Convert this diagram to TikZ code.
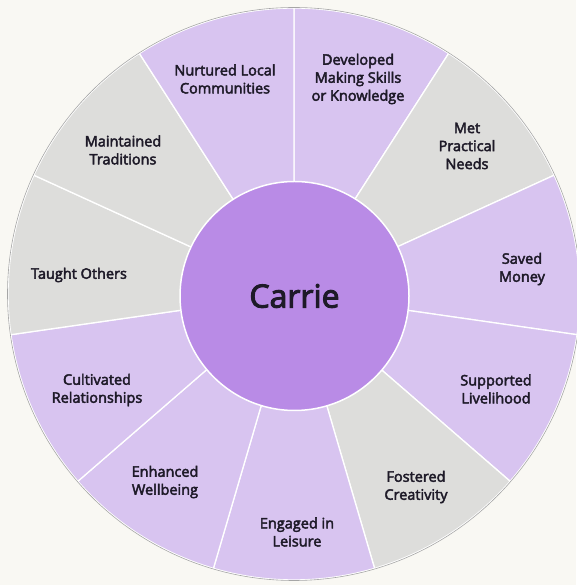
\documentclass[tikz,border=0pt]{standalone}
\usepackage{fontspec}
\setmainfont{Open Sans}[UprightFeatures={FakeBold=3}]
\definecolor{paper}{HTML}{F9F8F3}
\definecolor{lav}{HTML}{D8C4F0}
\definecolor{ash}{HTML}{DDDDDB}
\definecolor{hub}{HTML}{B98BE6}
\definecolor{ink}{HTML}{1E1A28}

\begin{document}
\begin{tikzpicture}[x=1pt, y=1pt,
        lbl/.style = {align=center, text=ink, font=\fontsize{14.5}{18}\selectfont}]
    \useasboundingbox[fill=paper] (0,0) rectangle (576,585);

    % wedges, clockwise from the top
    \begin{scope}[shift={(294,291)}]
        \foreach \k/\col in {0/lav, 1/ash, 2/lav, 3/lav, 4/ash, 5/lav,
                6/lav, 7/lav, 8/ash, 9/ash, 10/lav} {
            \pgfmathsetmacro\a{90 - 360/11*\k}
            \pgfmathsetmacro\b{\a - 360/11}
            \filldraw[fill=\col, draw=white, line width=1.3] (0,0) -- (\a:286)
                arc[start angle=\a, end angle=\b, radius=286] -- cycle;
        }
        \draw[black!35, line width=0.6] (0,0) circle (286.5);
    \end{scope}

    \node[circle, fill=hub, draw=white, line width=1.5, minimum size=229, inner sep=0,
        text=ink, font=\fontsize{32}{36}\selectfont] (carrie) at (294.5,289) {Carrie};

    \foreach \name/\pos/\txt in {
            dev/{358,506}/{Developed\\Making Skills\\or Knowledge},
            met/{467,439}/{Met\\Practical\\Needs},
            saved/{522,316}/{Saved\\Money},
            supp/{496,196}/{Supported\\Livelihood},
            fost/{416,98}/{Fostered\\Creativity},
            leis/{297,53}/{Engaged in\\Leisure},
            well/{165,103}/{Enhanced\\Wellbeing},
            cult/{97,195}/{Cultivated\\Relationships},
            taught/{79,310}/{Taught Others},
            trad/{123,435}/{Maintained\\Traditions},
            comm/{225,506}/{Nurtured Local\\Communities}}
        \node[lbl] (\name) at (\pos) {\txt};
\end{tikzpicture}
\end{document}
